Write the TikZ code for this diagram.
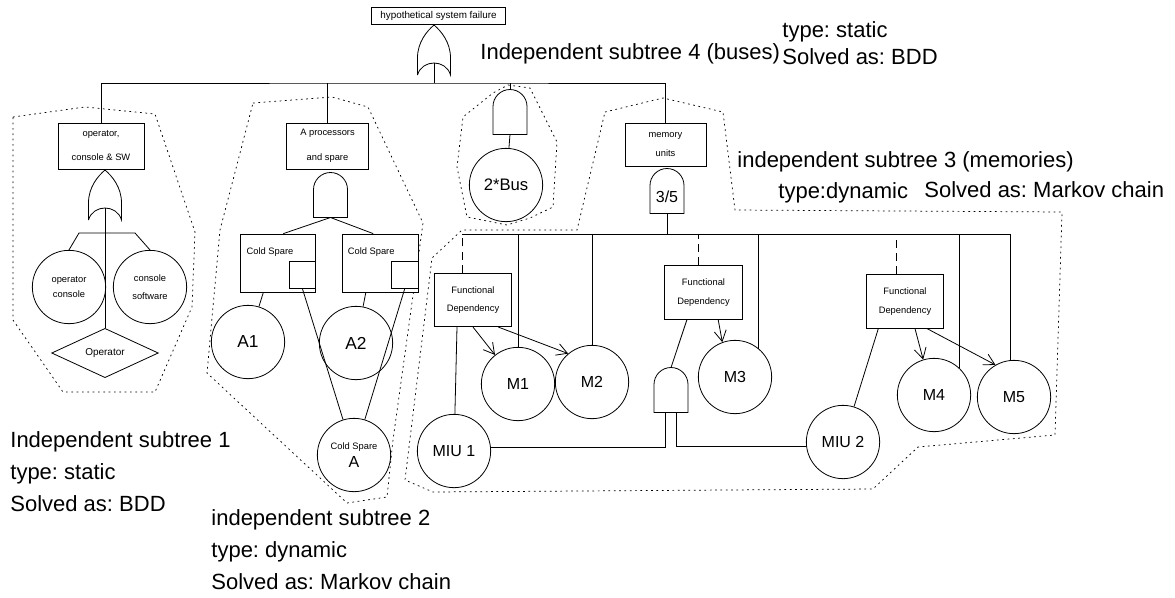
\documentclass[tikz,border=0pt]{standalone}
\usepackage{fontspec}
\setmainfont{Liberation Sans}
\usetikzlibrary{shapes.geometric,arrows.meta}
\frenchspacing

\begin{document}
\begin{tikzpicture}[
    x=0.75pt, y=-0.75pt,
    line width=0.6pt,
    box/.style={rectangle, draw, fill=white, align=center, inner sep=1pt, font=\fontsize{7}{9}\selectfont},
    fdbox/.style={box, minimum width=58pt, minimum height=40pt},
    spare/.style={box, minimum width=56.5pt, minimum height=43.5pt},
    sq/.style={rectangle, draw, minimum size=20pt, inner sep=0pt, anchor=south east},
    event/.style={circle, draw, minimum size=55pt, inner sep=0pt, align=center, font=\fontsize{12}{14}\selectfont},
    small/.style={font=\fontsize{7}{9}\selectfont, align=center, inner sep=0pt},
    note/.style={font=\fontsize{16.5}{24}\selectfont, align=left, inner sep=0pt, anchor=north west},
    region/.style={dash pattern=on 1.3pt off 2.7pt, line width=0.55pt},
    fdline/.style={dash pattern=on 6pt off 4pt},
    arrow/.style={-{Straight Barb[length=8pt,width=9pt]}},
    andgate/.pic={
        \draw (-17,22.5) -- (-17,-5.5) arc[start angle=180, end angle=360, radius=17] -- (17,22.5) -- cycle;
        \coordinate (-top) at (0,-22.5);
        \coordinate (-bot) at (0,22.5);
    },
    orgate/.pic={
        \draw (-16.5,25) -- (-16.5,8) .. controls (-16.5,-8) and (-7,-19) .. (0,-25)
            .. controls (7,-19) and (16.5,-8) .. (16.5,8) -- (16.5,25)
            .. controls (12,9) and (-12,9) .. (-16.5,25);
        \coordinate (-top) at (0,-25);
        \coordinate (-in) at (0,13);
    }
]
\useasboundingbox (0,0) rectangle (1175,597);

% independent subtrees
\draw[region] (13,117) -- (85,107) -- (155,114) -- (195,232) -- (192,307) -- (155,392) -- (63,392) -- (13,320) -- cycle;
\draw[region] (253,103) -- (332,97) -- (368,107) -- (423,223) -- (393,440) -- (387,497) -- (347,503) -- (207,373) -- (220,230) -- cycle;
\draw[region] (508,85) -- (530,88) -- (557,142) -- (553,207) -- (530,218) -- (507,225) -- (467,217) -- (457,167) -- (463,117) -- (493,93) -- cycle;
\draw[region] (605,112) -- (663,98) -- (723,112) -- (735,210) -- (1062,212) -- (1055,435) -- (918,447) -- (873,489) -- (433,492) -- (405,480) -- (432,258) -- (462,230) -- (577,230) -- cycle;

% top event
\node[box, minimum width=100pt, minimum height=12.75pt, font=\fontsize{7.4}{9}\selectfont] (top) at (438.5,15.5) {hypothetical system failure};
\pic (or1) at (434,50) {orgate};

\node[box, minimum width=64.5pt, minimum height=34.5pt] (opbox) at (101,146) {operator,\\[9pt]console \& SW};
\node[box, minimum width=61pt, minimum height=34.5pt] (proc) at (327.5,146) {A processors\\[9.75pt]and spare};
\node[box, minimum width=60.75pt, minimum height=32.25pt] (mem) at (665.5,144.5) {memory\\[5.5pt]units};
\pic (busg) at (510,112) {andgate};

\draw (or1-in) -- ++(0,20) coordinate (bar);
\draw (opbox.north) |- (bar) -| (mem.north);
\draw (proc.north) -- (proc.north |- bar);
\draw (busg-top) -- (busg-top |- bar);

% subtree 1
\pic (or2) at (105,195) {orgate};
\node[event, font=\fontsize{7}{9}\selectfont] (opcons) at (69,287) {operator\\[2pt]console};
\node[event, font=\fontsize{7}{9}\selectfont] (conssw) at (150,287) {console\\[5pt]software};
\node[diamond, draw, aspect=2.2, minimum width=80pt, minimum height=37pt, inner sep=0pt, font=\fontsize{7.5}{9}\selectfont] (oper) at (105,353) {Operator};
\draw (or2-in) -- ++(0,25) coordinate (b1);
\draw (opcons.north) -- ([xshift=-19.5pt]b1) -- ([xshift=22.5pt]b1) -- (conssw.north);
\draw (b1) -- (oper.north);

% subtree 2
\pic (pand) at (330.5,195) {andgate};
\node[spare] (csL) at (278,263) {};
\node[spare] (csR) at (380.5,263) {};
\node[sq] (csLsq) at ([yshift=3pt]csL.south east) {};
\node[sq] (csRsq) at ([yshift=3pt]csR.south east) {};
\node[small] (csLtxt) at ([xshift=-6pt,yshift=-14pt]csL.north) {Cold Spare};
\node[small] (csRtxt) at ([xshift=-7pt,yshift=-14pt]csR.north) {Cold Spare};
\node[event, font=\fontsize{13}{14}\selectfont] (A1) at (248,342) {A1};
\node[event, font=\fontsize{13}{14}\selectfont] (A2) at (356,343) {A2};
\node[event] (csA) at (354,455) {{\fontsize{7}{9}\selectfont Cold Spare}\\[-1pt]A};
\draw (pand-bot) -- ([xshift=4pt]csL.north);
\draw (pand-bot) -- ([xshift=-5.5pt]csR.north);
\draw ([xshift=-11pt]csL.south) -- (A1);
\draw ([xshift=-11pt]csR.south) -- (A2);
\draw (csLsq.south) -- (csA);
\draw (csRsq.south) -- (csA);

% subtree 4
\node[event, font=\fontsize{12.5}{14}\selectfont] (bus) at (506,185) {2*Bus};
\draw (busg-bot) -- (bus);

% subtree 3
\pic (kofn) at (667,191) {andgate};
\node[inner sep=0pt, font=\fontsize{12}{14}\selectfont] (kofnlab) at (667,197) {3/5};
\draw (kofn-bot) -- ++(0,20.5) coordinate (mbar);

\node[fdbox] (fd1) at (473,300) {Functional\\[5pt]Dependency};
\node[fdbox] (fd2) at (703.5,292.5) {Functional\\[5pt]Dependency};
\node[fdbox] (fd3) at (905,301.5) {Functional\\[5pt]Dependency};
\node[event] (M1) at (518,384) {M1};
\node[event] (M2) at (592,382) {M2};
\node[event] (M3) at (735,377) {M3};
\node[event] (M4) at (934,395) {M4};
\node[event] (M5) at (1014,397) {M5};
\node[event] (miu1) at (454,451) {MIU 1};
\node[event] (miu2) at (843,442) {MIU 2};
\pic (fdand) at (671,390) {andgate};

\draw[fdline] (fd1.north) ++(-8.25pt,0) coordinate (d1) -- (d1 |- mbar);
\draw[fdline] (fd2.north) ++(-4.1pt,0) coordinate (d2) -- (d2 |- mbar);
\draw[fdline] (fd3.north) ++(-6.75pt,0) coordinate (d3) -- (d3 |- mbar);
\draw (d1 |- mbar) -- (M5.95 |- mbar);
\draw (M1.north) -- (M1.north |- mbar);
\draw (M2.north) -- (M2.north |- mbar);
\draw (M3.50) -- (M3.50 |- mbar);
\draw (M4.47) -- (M4.47 |- mbar);
\draw (M5.95) -- (M5.95 |- mbar);

\draw ([xshift=-12pt]fd1.south) -- (miu1);
\draw[arrow] (fd1.south) -- (M1);
\draw[arrow] ([xshift=19pt]fd1.south) -- (M2.130);
\draw ([xshift=-12.4pt]fd2.south) -- (fdand-top);
\draw[arrow] ([xshift=11pt]fd2.south) -- (M3.110);
\draw (miu1.6) -| ([xshift=-4pt]fdand-bot);
\draw ([xshift=4pt]fdand-bot) |- (miu2.187);
\draw ([xshift=-20pt]fd3.south) -- (miu2);
\draw[arrow] ([xshift=7.5pt]fd3.south) -- (M4.107);
\draw[arrow] ([xshift=16.5pt]fd3.south) -- (M5.120);

% subtree labels
\node[note] (n1) at (10,431.5) {Independent subtree 1\\type: static\\Solved as: BDD};
\node[note] (n2) at (211,509) {independent subtree 2\\type: dynamic\\Solved as: Markov chain};
\node[note] (n3) at (737,151) {independent subtree 3 (memories)};
\node[note] (n3b) at (778,182) {type:dynamic};
\node[note] (n3c) at (924,181) {Solved as: Markov chain};
\node[note] (n4) at (480,43) {Independent subtree 4 (buses)};
\node[note, font=\fontsize{16.5}{20}\selectfont] (n4b) at (782,21) {type: static\\Solved as: BDD};
\end{tikzpicture}
\end{document}
